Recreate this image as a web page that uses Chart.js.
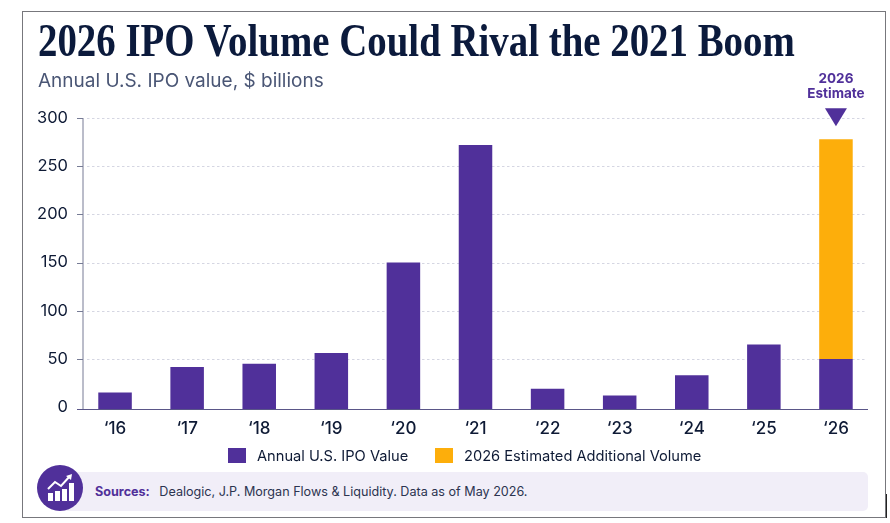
<!DOCTYPE html>
<html>
<head>
<meta charset="utf-8">
<script src="https://cdn.jsdelivr.net/npm/chart.js@4"></script>
<style>
  html,body{margin:0;padding:0;background:#fff;}
  body{width:890px;height:523px;position:relative;overflow:hidden;font-family:Inter,sans-serif;}
  #frame{position:absolute;left:22px;top:11px;width:862px;height:505px;border:1px solid #77777c;box-sizing:content-box;}
  #marca{position:absolute;left:886px;top:494px;width:1px;height:24px;background:#222;}
  #grafico{position:absolute;left:0;top:0;}
  #titulo{position:absolute;left:38px;top:14px;font:bold 46px "Liberation Serif",serif;color:#0b1a3c;white-space:nowrap;transform-origin:left top;}
  #subtitulo{position:absolute;left:38px;top:69px;font:19px Inter,sans-serif;color:#4a5675;white-space:nowrap;}
  #fonte{position:absolute;left:60px;top:472px;width:808px;height:39px;background:#f1eef8;border-radius:5px;font:12.6px Inter,sans-serif;color:#2c3450;line-height:39px;}
  #fonte b{color:#50309a;margin-left:35px;margin-right:6px;}
  #icone{position:absolute;left:37px;top:465px;width:46px;height:46px;border-radius:50%;background:#50309a;}
</style>
</head>
<body>
<div id="frame"></div>
<div id="marca"></div>
<canvas id="grafico" width="890" height="523"></canvas>
<div id="titulo">2026 IPO Volume Could Rival the 2021 Boom</div>
<div id="subtitulo">Annual U.S. IPO value, $ billions</div>
<div id="fonte"><b>Sources:</b> Dealogic, J.P. Morgan Flows &amp; Liquidity. Data as of May 2026.</div>
<div id="icone">
  <svg width="46" height="46" viewBox="0 0 46 46">
    <rect x="11" y="28" width="5" height="8" fill="#fff"/>
    <rect x="18" y="26" width="5" height="10" fill="#fff"/>
    <rect x="25" y="24" width="5" height="12" fill="#fff"/>
    <rect x="32" y="18" width="5" height="18" fill="#fff"/>
    <path d="M11 24 L18 17 L24 21 L33 11" fill="none" stroke="#fff" stroke-width="2"/>
    <path d="M29 11 L35 9 L34 15 Z" fill="#fff"/>
  </svg>
</div>
<script>
const anos = ["\u201816","\u201817","\u201818","\u201819","\u201820","\u201821","\u201822","\u201823","\u201824","\u201825","\u201826"];
const valorAnual = [15,41.5,45,56,150,272,19,12,33,65,50];
const valorEstimado = [null,null,null,null,null,null,null,null,null,null,228];
const ticksY = [0,50,100,150,200,250,300];

const ROXO = "#50309a";
const LARANJA = "#fdae0b";
const TEXTO = "#0e1a35";

// ajusta o titulo a largura da referencia (a serifada disponivel e mais larga)
const titulo = document.getElementById("titulo");
titulo.style.transform = "scaleX(" + (757 / titulo.offsetWidth) + ")";

// eixos e grade desenhados a mao porque nao vao de ponta a ponta na area do grafico
const eixosPlugin = {
  id:"eixos",
  beforeDatasetsDraw(chart){
    const {ctx, scales:{y}} = chart;
    ctx.save();
    ctx.strokeStyle = "#d5d6e2";
    ctx.lineWidth = 1;
    ctx.setLineDash([2.5,2.5]);
    ticksY.forEach(t=>{
      if(t===0) return;
      ctx.beginPath();
      ctx.moveTo(87,Math.round(y.getPixelForValue(t))+.5);
      ctx.lineTo(866,Math.round(y.getPixelForValue(t))+.5);
      ctx.stroke();
    });
    ctx.setLineDash([]);
    ctx.strokeStyle = "#767b95";
    ctx.beginPath();
    ctx.moveTo(83,y.getPixelForValue(300));
    ctx.lineTo(83,y.bottom);
    ctx.stroke();
    ticksY.forEach(t=>{
      if(t===0) return;
      ctx.beginPath();
      ctx.moveTo(77,Math.round(y.getPixelForValue(t))+.5);
      ctx.lineTo(83,Math.round(y.getPixelForValue(t))+.5);
      ctx.stroke();
    });
    ctx.restore();
  },
  afterDatasetsDraw(chart){
    const {ctx, scales:{y}} = chart;
    ctx.save();
    ctx.strokeStyle = "#5a5688";
    ctx.lineWidth = 1.2;
    ctx.beginPath();
    ctx.moveTo(77,y.bottom+.5);
    ctx.lineTo(868,y.bottom+.5);
    ctx.stroke();
    ctx.restore();
  }
};

// rotulo "2026 Estimate" com a seta sobre a ultima barra
const estimativaPlugin = {
  id:"estimativa",
  afterDatasetsDraw(chart){
    const {ctx, scales:{x,y}} = chart;
    const cx = x.getPixelForValue(anos.length-1);
    const topo = y.getPixelForValue(valorAnual[10]+valorEstimado[10]);
    ctx.save();
    ctx.fillStyle = ROXO;
    ctx.font = "bold 13.5px Inter";
    ctx.textAlign = "center";
    ctx.textBaseline = "middle";
    ctx.fillText("2026",cx,79);
    ctx.fillText("Estimate",cx,94);
    ctx.beginPath();
    ctx.moveTo(cx-11,topo-31);
    ctx.lineTo(cx+11,topo-31);
    ctx.lineTo(cx,topo-13);
    ctx.closePath();
    ctx.fill();
    ctx.restore();
  }
};

// legenda propria: o espaco entre quadrado e texto da legenda padrao e fixo
const legendaPlugin = {
  id:"legenda",
  afterDraw(chart){
    const {ctx} = chart;
    const posicoes = [228,435];
    ctx.save();
    ctx.font = "14.65px Inter";
    ctx.textBaseline = "middle";
    chart.data.datasets.forEach((d,i)=>{
      ctx.fillStyle = d.backgroundColor;
      ctx.fillRect(posicoes[i],448,18,15);
      ctx.fillStyle = TEXTO;
      ctx.fillText(d.label,posicoes[i]+29,456.5);
    });
    ctx.restore();
  }
};

new Chart(document.getElementById("grafico").getContext("2d"),{
  type:"bar",
  data:{
    labels:anos,
    datasets:[
      {label:"Annual U.S. IPO Value",data:valorAnual,backgroundColor:ROXO,barPercentage:.465,categoryPercentage:1,base:-2},
      {label:"2026 Estimated Additional Volume",data:valorEstimado,backgroundColor:LARANJA,barPercentage:.465,categoryPercentage:1}
    ]
  },
  options:{
    responsive:false,
    animation:false,
    layout:{padding:{left:0,right:18,top:118,bottom:81}},
    plugins:{
      tooltip:{enabled:false},
      legend:{display:false}
    },
    scales:{
      x:{
        stacked:true,
        grid:{display:false},
        border:{display:false},
        ticks:{color:TEXTO,font:{family:"Inter",size:17,weight:"500"},padding:2,maxRotation:0},
        afterFit(s){s.height=33;}
      },
      y:{
        stacked:true,
        min:-2,max:300,
        afterFit(s){s.width=79;},
        afterBuildTicks(s){s.ticks=ticksY.map(v=>({value:v}));},
        grid:{display:false},
        border:{display:false},
        ticks:{color:TEXTO,font:{family:"Inter",size:16.5},padding:3}
      }
    }
  },
  plugins:[eixosPlugin,estimativaPlugin,legendaPlugin]
});
</script>
</body>
</html>
